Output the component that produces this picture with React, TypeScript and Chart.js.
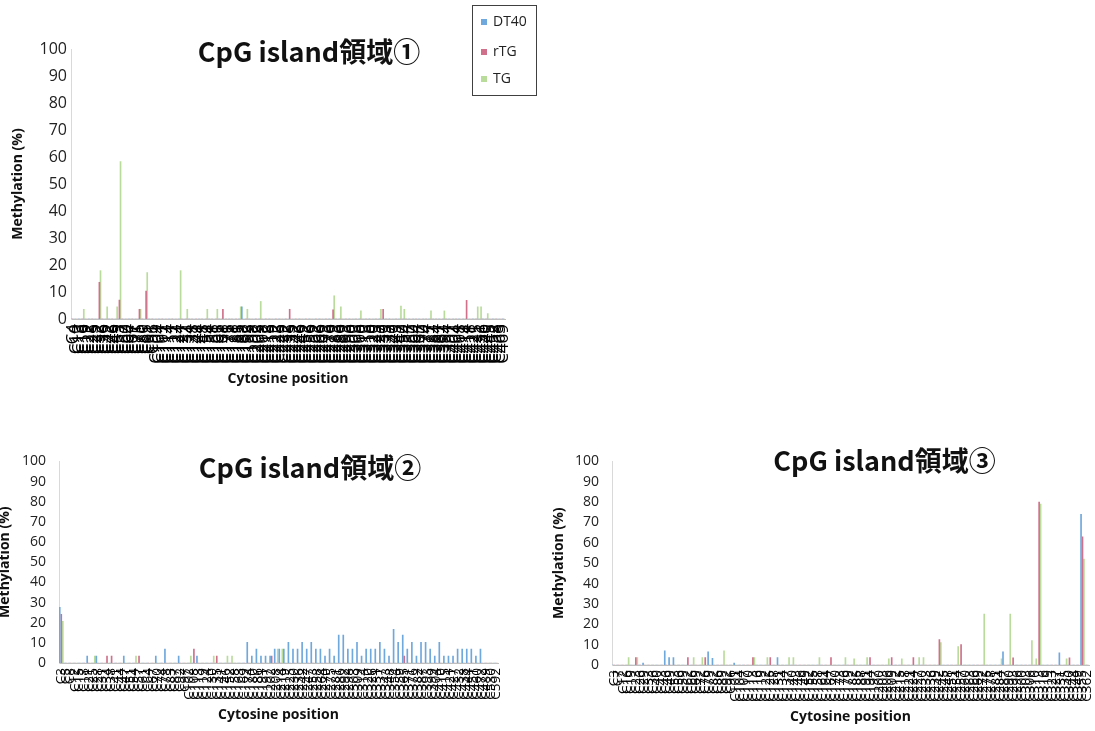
import React, { useEffect, useRef } from "react";
import { Chart, registerables } from "chart.js";

Chart.register(...registerables);
Chart.defaults.font.family = "'Open Sans', 'Noto Sans', sans-serif";

// ---------------- DATA ----------------
const seriesNames = ["DT40", "rTG", "TG"];
const seriesColors = ["#6fa8dc", "#d0708a", "#b9dc9b"];

const chart1Title = "CpG island領域①";
const chart2Title = "CpG island領域②";
const chart3Title = "CpG island領域③";
const yAxisTitle = "Methylation (%)";
const xAxisTitle = "Cytosine position";

const chart1Labels = [
  "C4", "C10", "C13", "C16", "C19", "C22", "C25", "C29", "C32", "C36",
  "C39", "C42", "C46", "C49", "C53", "C57", "C60", "C64", "C67", "C71",
  "C75", "C80", "C85", "C91", "C96", "C101", "C104", "C107", "C111", "C114",
  "C117", "C121", "C124", "C127", "C131", "C134", "C138", "C141", "C144", "C148",
  "C151", "C154", "C158", "C161", "C165", "C168", "C171", "C175", "C178", "C181",
  "C185", "C188", "C192", "C195", "C198", "C202", "C205", "C208", "C212", "C215",
  "C219", "C222", "C225", "C229", "C232", "C235", "C239", "C242", "C246", "C249",
  "C252", "C256", "C259", "C262", "C266", "C269", "C273", "C276", "C279", "C283",
  "C286", "C289", "C293", "C296", "C300", "C303", "C306", "C310", "C313", "C316",
  "C320", "C323", "C327", "C330", "C333", "C337", "C340", "C343", "C347", "C350",
  "C354", "C357", "C360", "C364", "C367", "C370", "C374", "C377", "C381", "C384",
  "C387", "C391", "C394", "C397", "C401", "C404", "C408", "C411", "C414", "C418",
  "C421", "C425", "C431", "C436", "C440", "C445", "C452", "C458", "C463", "C469",
];

const chart1DT40 = [
  0, 0, 0, 0, 0, 0, 0, 0, 0, 0,
  0, 0, 0, 0, 0, 0, 0, 0, 0, 0,
  0, 0, 0, 0, 0, 0, 0, 0, 0, 0,
  0, 0, 0, 0, 0, 0, 0, 0, 0, 0,
  0, 0, 0, 0, 0, 0, 0, 0, 0, 0,
  0, 4.5, 0, 0, 0, 0, 0, 0, 0, 0,
  0, 0, 0, 0, 0, 0, 0, 0, 0, 0,
  0, 0, 0, 0, 0, 0, 0, 0, 0, 0,
  0, 0, 0, 0, 0, 0, 0, 0, 0, 0,
  0, 0, 0, 0, 0, 0, 0, 0, 0, 0,
  0, 0, 0, 0, 0, 0, 0, 0, 0, 0,
  0, 0, 0, 0, 0, 0, 0, 0, 0, 0,
  0, 0, 0, 0, 0, 0, 0, 0, 0, 0,
];

const chart1RTG = [
  0, 0, 0, 0, 0, 0, 0, 0, 13.6, 0,
  0, 0, 0, 0, 7, 0, 0, 0, 0, 0,
  3.6, 0, 10.3, 0, 0, 0, 0, 0, 0, 0,
  0, 0, 0, 0, 0, 0, 0, 0, 0, 0,
  0, 0, 0, 0, 0, 3.6, 0, 0, 0, 0,
  0, 0, 0, 0, 0, 0, 0, 0, 0, 0,
  0, 0, 0, 0, 0, 3.6, 0, 0, 0, 0,
  0, 0, 0, 0, 0, 0, 0, 0, 3.4, 0,
  0, 0, 0, 0, 0, 0, 0, 0, 0, 0,
  0, 0, 0, 3.6, 0, 0, 0, 0, 0, 0,
  0, 0, 0, 0, 0, 0, 0, 0, 0, 0,
  0, 0, 0, 0, 0, 0, 0, 0, 6.9, 0,
  0, 0, 0, 0, 0, 0, 0, 0, 0, 0,
];

const chart1TG = [
  0, 0, 0, 3.6, 0, 0, 0, 0, 17.9, 0,
  4.5, 0, 0, 4.5, 58.3, 0, 0, 0, 0, 0,
  3.6, 0, 17.2, 0, 0, 0, 0, 0, 0, 0,
  0, 0, 17.9, 0, 3.6, 0, 0, 0, 0, 0,
  3.6, 0, 0, 3.6, 0, 0, 0, 0, 0, 0,
  4.5, 0, 3.6, 0, 0, 0, 6.5, 0, 0, 0,
  0, 0, 0, 0, 0, 0, 0, 0, 0, 0,
  0, 0, 0, 0, 0, 0, 0, 0, 8.6, 0,
  4.5, 0, 0, 0, 0, 0, 3, 0, 0, 0,
  0, 0, 3.6, 0, 0, 0, 0, 0, 4.8, 3.6,
  0, 0, 0, 0, 0, 0, 0, 3, 0, 0,
  0, 3, 0, 0, 0, 0, 0, 0, 0, 0,
  0, 4.5, 4.5, 0, 2, 0, 0, 0, 0, 0,
];

const chart2Labels = [
  "C3", "C5", "C8", "C12", "C15", "C18", "C21", "C25", "C28", "C31",
  "C34", "C38", "C41", "C44", "C47", "C51", "C54", "C57", "C61", "C64",
  "C67", "C70", "C74", "C78", "C83", "C87", "C92", "C97", "C102", "C108",
  "C113", "C119", "C124", "C130", "C135", "C141", "C146", "C152", "C158", "C163",
  "C169", "C174", "C180", "C186", "C191", "C197", "C202", "C208", "C214", "C219",
  "C225", "C230", "C236", "C242", "C247", "C253", "C258", "C264", "C270", "C275",
  "C281", "C286", "C292", "C298", "C303", "C309", "C314", "C320", "C326", "C331",
  "C337", "C343", "C348", "C354", "C359", "C365", "C371", "C376", "C382", "C387",
  "C393", "C399", "C404", "C410", "C415", "C421", "C427", "C432", "C438", "C444",
  "C451", "C460", "C472", "C489", "C530", "C592",
];

const chart2DT40 = [
  27.6, 0, 0, 0, 0, 0, 3.4, 0, 3.4, 0,
  0, 0, 0, 0, 3.4, 0, 0, 0, 0, 0,
  0, 3.4, 0, 6.9, 0, 0, 3.4, 0, 0, 0,
  3.4, 0, 0, 0, 0, 0, 0, 0, 0, 0,
  0, 10.3, 3.4, 6.9, 3.4, 3.4, 3.4, 6.9, 6.9, 6.9,
  10.3, 6.9, 6.9, 10.3, 6.9, 10.3, 6.9, 6.9, 3.4, 6.9,
  3.4, 13.8, 13.8, 6.9, 6.9, 10.3, 3.4, 6.9, 6.9, 6.9,
  10.3, 6.9, 3.4, 16.7, 10.3, 13.8, 6.9, 10.3, 3.4, 10.3,
  10.3, 6.9, 3.4, 10.3, 3.4, 3.4, 3.4, 6.9, 6.9, 6.9,
  6.9, 3.4, 6.9, 0, 0, 0,
];

const chart2RTG = [
  24.1, 0, 0, 0, 0, 0, 0, 0, 0, 0,
  3.4, 3.4, 0, 0, 0, 0, 0, 3.4, 0, 0,
  0, 0, 0, 0, 0, 0, 0, 0, 0, 6.9,
  0, 0, 0, 0, 3.4, 0, 0, 0, 0, 0,
  0, 0, 0, 0, 0, 0, 3.4, 0, 0, 0,
  0, 0, 0, 0, 0, 0, 0, 0, 0, 0,
  0, 0, 0, 0, 0, 0, 0, 0, 0, 0,
  0, 0, 0, 0, 0, 3.4, 0, 0, 0, 0,
  0, 0, 0, 0, 0, 0, 0, 0, 0, 0,
  0, 0, 0, 0, 0, 0,
];

const chart2TG = [
  20.7, 0, 0, 0, 0, 0, 0, 3.4, 0, 0,
  0, 0, 0, 0, 0, 0, 3.4, 0, 0, 0,
  0, 0, 0, 0, 0, 0, 0, 0, 3.4, 0,
  0, 0, 0, 3.4, 0, 0, 3.4, 3.4, 0, 0,
  0, 0, 0, 0, 0, 0, 0, 6.9, 6.9, 0,
  0, 0, 0, 0, 0, 0, 0, 0, 0, 0,
  0, 0, 0, 0, 0, 0, 0, 0, 0, 0,
  0, 0, 0, 0, 0, 0, 0, 0, 0, 0,
  0, 0, 0, 0, 0, 0, 0, 0, 0, 0,
  0, 0, 0, 0, 0, 0,
];

const chart3Labels = [
  "C3", "C7", "C12", "C16", "C19", "C23", "C26", "C29", "C33", "C36",
  "C40", "C43", "C46", "C49", "C53", "C56", "C59", "C62", "C66", "C69",
  "C72", "C76", "C79", "C82", "C86", "C89", "C92", "C96", "C101", "C104",
  "C107", "C110", "C113", "C116", "C119", "C122", "C125", "C128", "C131", "C134",
  "C137", "C140", "C143", "C146", "C149", "C152", "C155", "C158", "C161", "C164",
  "C167", "C170", "C173", "C176", "C179", "C182", "C185", "C188", "C191", "C194",
  "C197", "C200", "C203", "C206", "C209", "C212", "C215", "C218", "C221", "C224",
  "C227", "C230", "C233", "C236", "C239", "C242", "C245", "C248", "C251", "C254",
  "C257", "C260", "C263", "C266", "C269", "C272", "C275", "C278", "C281", "C284",
  "C287", "C290", "C293", "C296", "C300", "C303", "C306", "C310", "C313", "C316",
  "C319", "C323", "C327", "C331", "C335", "C340", "C344", "C349", "C355", "C362",
];

const chart3DT40 = [
  0, 0, 0, 0, 0, 0, 0, 1, 0, 0,
  0, 0, 6.9, 3.7, 3.7, 0, 0, 0, 0, 0,
  0, 0, 6.5, 3.3, 0, 0, 0, 0, 1, 0,
  0, 0, 0, 0, 0, 0, 0, 0, 3.7, 0,
  0, 0, 0, 0, 0, 0, 0, 0, 0, 0,
  0, 0, 0, 0, 0, 0, 0, 0, 0, 0,
  0, 0, 0, 0, 0, 0, 0, 0, 0, 0,
  0, 0, 0, 0, 0, 0, 0, 0, 0, 0,
  0, 0, 0, 0, 0, 0, 0, 0, 0, 0,
  6.5, 0, 0, 0, 0, 0, 0, 0, 0, 0,
  0, 0, 0, 6, 0, 0, 0, 0, 74, 0,
];

const chart3RTG = [
  0, 0, 0, 0, 0, 3.7, 0, 0, 0, 0,
  0, 0, 0, 0, 0, 0, 0, 3.7, 0, 0,
  0, 3.7, 0, 0, 0, 0, 0, 0, 0, 0,
  0, 0, 3.7, 0, 0, 0, 3.7, 0, 0, 0,
  0, 0, 0, 0, 0, 0, 0, 0, 0, 0,
  3.7, 0, 0, 0, 0, 0, 0, 0, 0, 3.7,
  0, 0, 0, 0, 3.7, 0, 0, 0, 0, 3.7,
  0, 0, 0, 0, 0, 12.5, 0, 0, 0, 0,
  10, 0, 0, 0, 0, 0, 0, 0, 0, 0,
  0, 0, 3.5, 0, 0, 0, 0, 0, 80, 0,
  0, 0, 0, 0, 0, 3.5, 0, 0, 63, 0,
];

const chart3TG = [
  0, 0, 0, 3.7, 0, 3.7, 0, 0, 0, 0,
  0, 0, 0, 0, 0, 0, 0, 0, 3.7, 0,
  3.7, 0, 0, 0, 0, 6.9, 0, 0, 0, 0,
  0, 0, 3.7, 0, 0, 3.7, 0, 0, 0, 0,
  3.7, 3.7, 0, 0, 0, 0, 0, 3.7, 0, 0,
  0, 0, 0, 3.7, 0, 3, 0, 0, 3.7, 0,
  0, 0, 0, 3, 0, 0, 3, 0, 0, 0,
  3.7, 3.7, 0, 0, 0, 11, 0, 0, 0, 9,
  0, 0, 0, 0, 0, 25, 0, 0, 0, 3,
  0, 25, 0, 0, 0, 0, 12, 3, 79, 0,
  0, 0, 0, 0, 3, 0, 0, 0, 52, 0,
];

// ---------------- LAYOUT ----------------
type Panel = {
  title: string;
  labels: string[];
  series: number[][];
  x: number; y: number; w: number; h: number;
  padTop: number; padRight: number;
  yAxisW: number; xAxisH: number;
  yTitlePad: number; xTitlePad: number;
  yTickSize: number; yTickPad: number;
  xTickSize: number; xTickPad: number;
  titleX: number; titleY: number;
  legend: boolean;
};

const panels: Panel[] = [
  {
    title: chart1Title, labels: chart1Labels, series: [chart1DT40, chart1RTG, chart1TG],
    x: 0, y: 0, w: 540, h: 400,
    padTop: 49, padRight: 35, yAxisW: 71, xAxisH: 81,
    yTitlePad: 10, xTitlePad: 12.6,
    yTickSize: 16, yTickPad: 4, xTickSize: 17, xTickPad: 5,
    titleX: 309, titleY: 52, legend: true,
  },
  {
    title: chart2Title, labels: chart2Labels, series: [chart2DT40, chart2RTG, chart2TG],
    x: -6, y: 440, w: 540, h: 290,
    padTop: 19, padRight: 36, yAxisW: 65, xAxisH: 67,
    yTitlePad: 3, xTitlePad: 6.6,
    yTickSize: 14, yTickPad: 13, xTickSize: 13.5, xTickPad: 5,
    titleX: 316, titleY: 28, legend: false,
  },
  {
    title: chart3Title, labels: chart3Labels, series: [chart3DT40, chart3RTG, chart3TG],
    x: 540, y: 440, w: 600, h: 291,
    padTop: 21, padRight: 51, yAxisW: 72, xAxisH: 66,
    yTitlePad: 10.6, xTitlePad: 5.6,
    yTickSize: 14, yTickPad: 13, xTickSize: 13.5, xTickPad: 5,
    titleX: 344.5, titleY: 21, legend: false,
  },
];

const legendBox = { x: 472, y: 5, w: 64, h: 90, boxX: 9, box: 6, textX: 21, itemY: [22, 52, 79], fontSize: 14 };

function makeOverlay(p: Panel) {
  return {
    id: "overlay",
    afterDraw(chart: any) {
      const ctx = chart.ctx as CanvasRenderingContext2D;
      ctx.save();
      ctx.font = `bold 27px "Noto Sans CJK JP", "Noto Sans", sans-serif`;
      ctx.fillStyle = "#111";
      ctx.textAlign = "center";
      ctx.textBaseline = "middle";
      ctx.fillText(p.title, p.titleX, p.titleY);
      if (p.legend) {
        const L = legendBox;
        ctx.fillStyle = "#ffffff";
        ctx.fillRect(L.x, L.y, L.w, L.h);
        ctx.strokeStyle = "#404040";
        ctx.lineWidth = 1;
        ctx.strokeRect(L.x + 0.5, L.y + 0.5, L.w, L.h);
        ctx.font = `${L.fontSize}px "Open Sans", sans-serif`;
        ctx.textAlign = "left";
        ctx.textBaseline = "middle";
        chart.data.datasets.forEach((ds: any, i: number) => {
          const cy = L.itemY[i];
          ctx.fillStyle = ds.backgroundColor;
          ctx.fillRect(L.x + L.boxX, cy - L.box / 2, L.box, L.box);
          ctx.fillStyle = "#222";
          ctx.fillText(ds.label, L.x + L.textX, cy);
        });
      }
      ctx.restore();
    },
  };
}

function ChartPanel({ p }: { p: Panel }) {
  const ref = useRef<HTMLCanvasElement>(null);
  useEffect(() => {
    if (!ref.current) return;
    const chart = new Chart(ref.current, {
      type: "bar",
      data: {
        labels: p.labels,
        datasets: p.series.map((vals, i) => ({
          label: seriesNames[i],
          data: vals,
          backgroundColor: seriesColors[i],
          borderWidth: 0,
          categoryPercentage: 1,
          barPercentage: 1,
          maxBarThickness: 1,
        })),
      },
      options: {
        responsive: false,
        animation: false,
        devicePixelRatio: 1,
        layout: { padding: { top: p.padTop, right: p.padRight, left: 0, bottom: 0 } },
        plugins: {
          legend: { display: false },
          title: { display: false },
          tooltip: { enabled: false },
        },
        scales: {
          x: {
            grid: { display: false, drawTicks: false },
            border: { display: true, color: "#bfbfbf" },
            ticks: {
              autoSkip: false,
              minRotation: 90,
              maxRotation: 90,
              padding: p.xTickPad,
              color: "#000",
              font: { size: p.xTickSize },
            },
            title: {
              display: true,
              text: xAxisTitle,
              color: "#111",
              font: { size: 14, weight: "bold" },
              padding: { top: 0, bottom: p.xTitlePad },
            },
            afterFit: (s: any) => { s.height = p.xAxisH; },
          },
          y: {
            min: 0,
            max: 100,
            grid: { display: false, drawTicks: false },
            border: { display: true, color: "#d9d9d9" },
            ticks: {
              stepSize: 10,
              padding: p.yTickPad,
              color: "#222",
              font: { size: p.yTickSize },
            },
            title: {
              display: true,
              text: yAxisTitle,
              color: "#111",
              font: { size: 14, weight: "bold" },
              padding: { top: p.yTitlePad, bottom: 0 },
            },
            afterFit: (s: any) => { s.width = p.yAxisW; },
          },
        },
      } as any,
      plugins: [makeOverlay(p)],
    });
    return () => chart.destroy();
  }, [p]);
  return (
    <canvas
      ref={ref}
      width={p.w}
      height={p.h}
      style={{ position: "absolute", left: p.x, top: p.y, width: p.w, height: p.h }}
    />
  );
}

export default function App() {
  return (
    <div
      style={{
        position: "absolute",
        left: 0,
        top: 0,
        width: 1095,
        height: 731,
        overflow: "hidden",
        background: "#ffffff",
      }}
    >
      {panels.map((p, i) => (
        <ChartPanel key={i} p={p} />
      ))}
    </div>
  );
}
